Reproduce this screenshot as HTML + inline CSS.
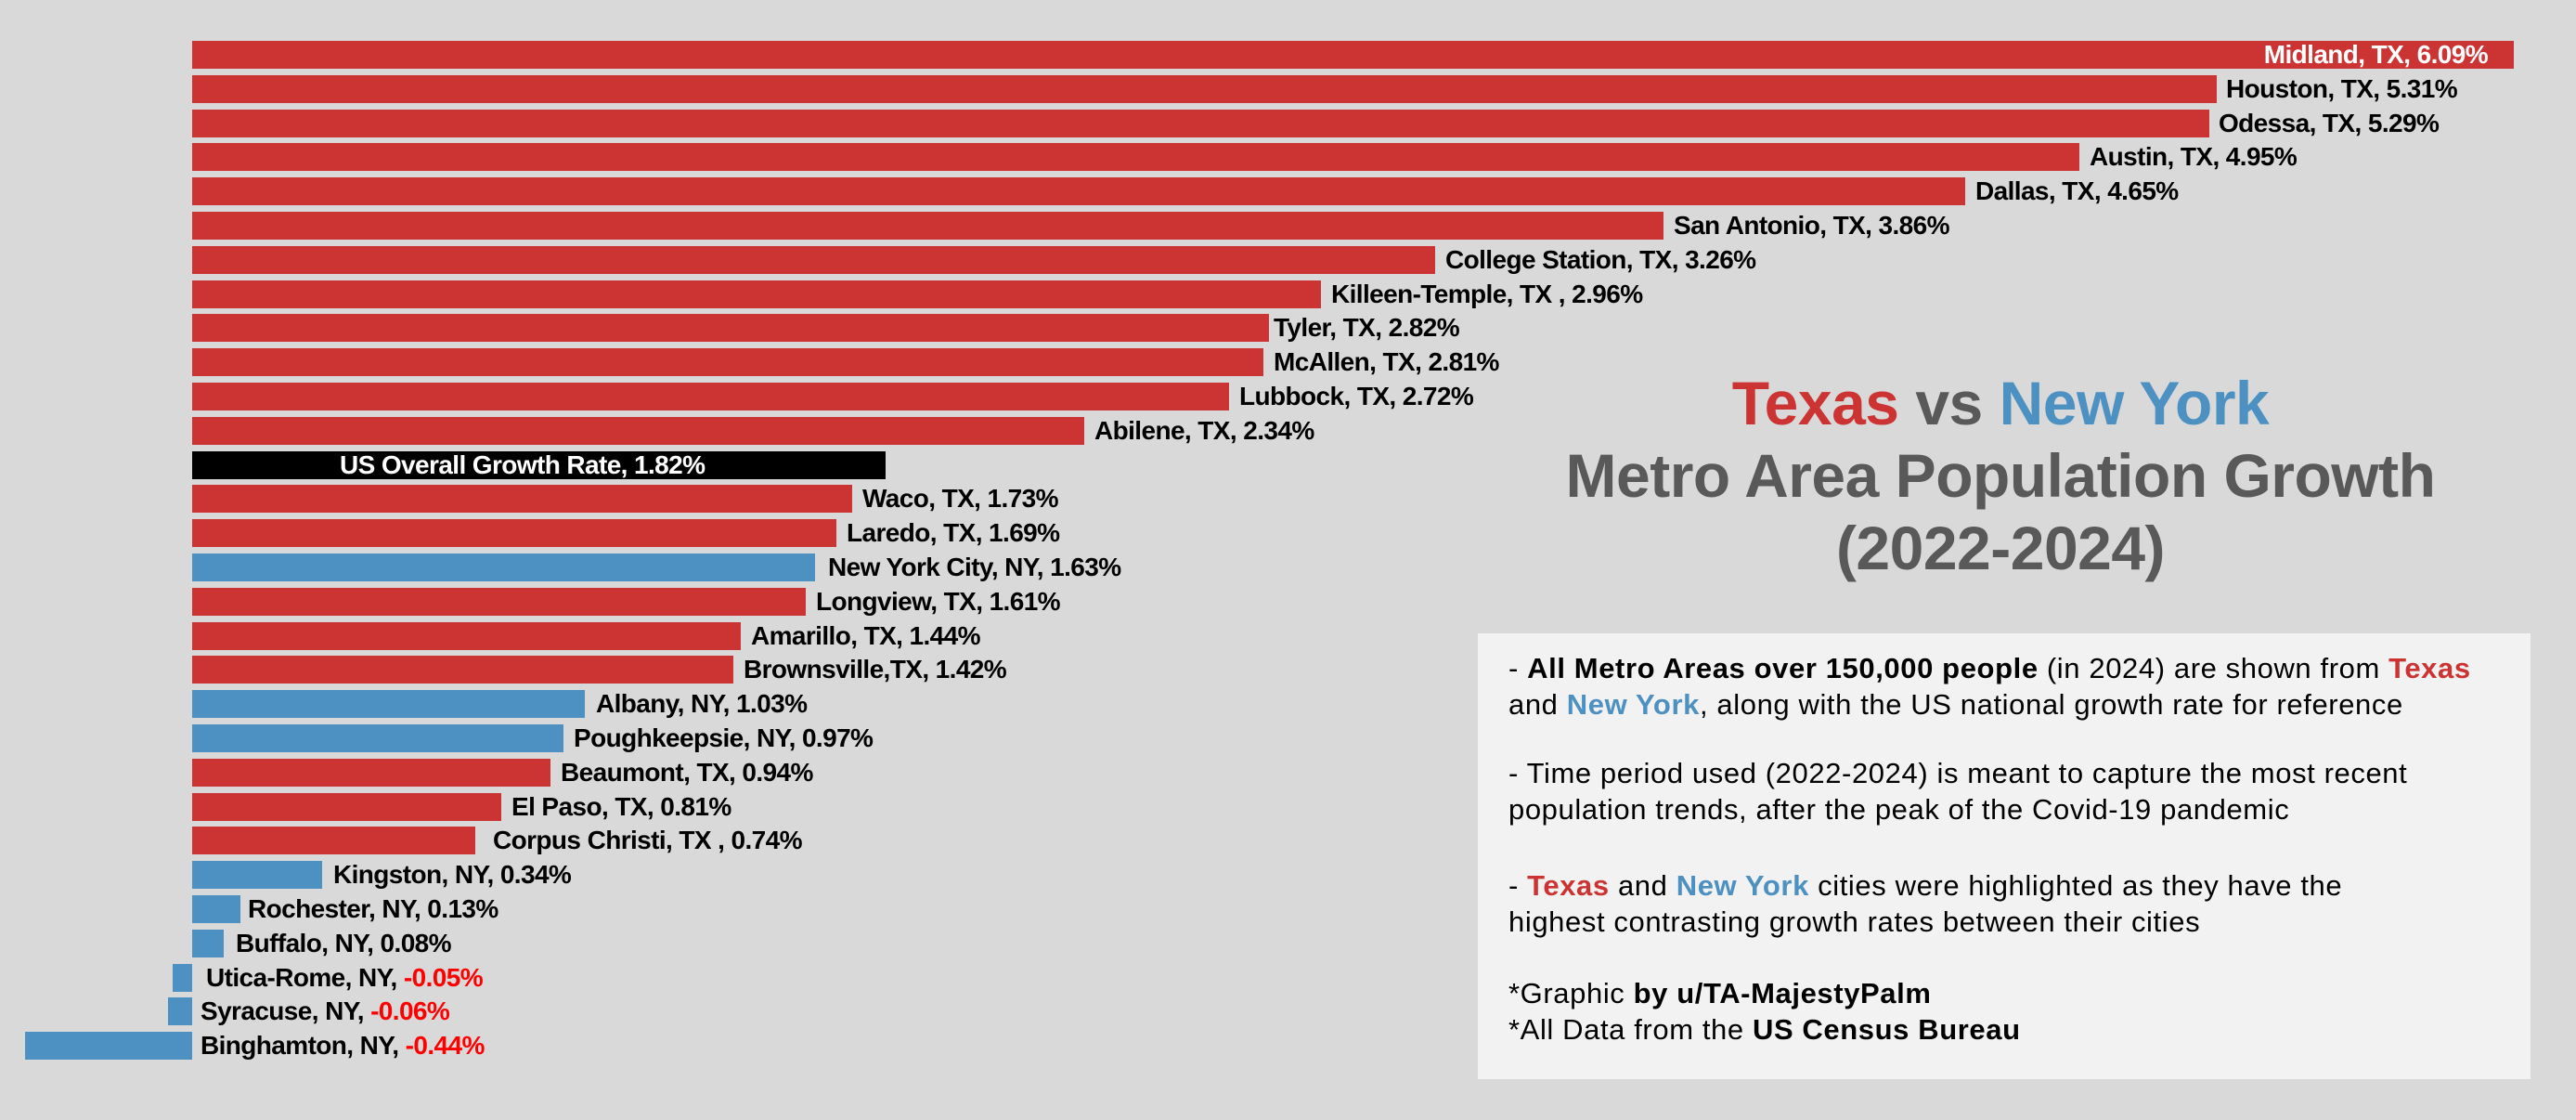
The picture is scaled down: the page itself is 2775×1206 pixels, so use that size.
<!DOCTYPE html>
<html><head><meta charset="utf-8"><style>
body{margin:0;width:2775px;height:1206px;background:#d9d9d9;position:relative;overflow:hidden;font-family:"Liberation Sans",sans-serif}
.b{position:absolute;height:30px}
.r{background:#cc3333}.u{background:#4d91c2}.k{background:#000}
.l{position:absolute;height:30px;line-height:30px;font-weight:bold;font-size:28px;letter-spacing:-0.6px;color:#000;white-space:nowrap}
.n{color:#ff0000}
.t{position:absolute;left:1555px;width:1200px;text-align:center;font-weight:bold;color:#595959;font-size:66px;letter-spacing:-0.5px}
.box{position:absolute;left:1592px;top:682px;width:1134px;height:480px;background:#f2f2f2}
.p{position:absolute;left:1625px;font-size:31px;color:#000;white-space:nowrap;letter-spacing:0.6px}
.tr{color:#cc3333;font-weight:bold}.tb{color:#4d91c2;font-weight:bold}
</style></head><body>
<div class="b r" style="left:207px;top:44px;width:2501px"></div><div class="l" style="left:2380px;width:300px;text-align:right;top:44px;color:#fff">Midland, TX, 6.09%</div>
<div class="b r" style="left:207px;top:81px;width:2181px"></div><div class="l" style="left:2398px;top:81px">Houston, TX, 5.31%</div>
<div class="b r" style="left:207px;top:118px;width:2173px"></div><div class="l" style="left:2390px;top:118px">Odessa, TX, 5.29%</div>
<div class="b r" style="left:207px;top:154px;width:2033px"></div><div class="l" style="left:2251px;top:154px">Austin, TX, 4.95%</div>
<div class="b r" style="left:207px;top:191px;width:1910px"></div><div class="l" style="left:2128px;top:191px">Dallas, TX, 4.65%</div>
<div class="b r" style="left:207px;top:228px;width:1585px"></div><div class="l" style="left:1803px;top:228px">San Antonio, TX, 3.86%</div>
<div class="b r" style="left:207px;top:265px;width:1339px"></div><div class="l" style="left:1557px;top:265px">College Station, TX, 3.26%</div>
<div class="b r" style="left:207px;top:302px;width:1216px"></div><div class="l" style="left:1434px;top:302px">Killeen-Temple, TX , 2.96%</div>
<div class="b r" style="left:207px;top:338px;width:1160px"></div><div class="l" style="left:1372px;top:338px">Tyler, TX, 2.82%</div>
<div class="b r" style="left:207px;top:375px;width:1154px"></div><div class="l" style="left:1372px;top:375px">McAllen, TX, 2.81%</div>
<div class="b r" style="left:207px;top:412px;width:1117px"></div><div class="l" style="left:1335px;top:412px">Lubbock, TX, 2.72%</div>
<div class="b r" style="left:207px;top:449px;width:961px"></div><div class="l" style="left:1179px;top:449px">Abilene, TX, 2.34%</div>
<div class="b k" style="left:207px;top:486px;width:747px"></div><div class="l" style="left:366px;top:486px;color:#fff">US Overall Growth Rate, 1.82%</div>
<div class="b r" style="left:207px;top:522px;width:711px"></div><div class="l" style="left:929px;top:522px">Waco, TX, 1.73%</div>
<div class="b r" style="left:207px;top:559px;width:694px"></div><div class="l" style="left:912px;top:559px">Laredo, TX, 1.69%</div>
<div class="b u" style="left:207px;top:596px;width:671px"></div><div class="l" style="left:892px;top:596px">New York City, NY, 1.63%</div>
<div class="b r" style="left:207px;top:633px;width:661px"></div><div class="l" style="left:879px;top:633px">Longview, TX, 1.61%</div>
<div class="b r" style="left:207px;top:670px;width:591px"></div><div class="l" style="left:809px;top:670px">Amarillo, TX, 1.44%</div>
<div class="b r" style="left:207px;top:706px;width:583px"></div><div class="l" style="left:801px;top:706px">Brownsville,TX, 1.42%</div>
<div class="b u" style="left:207px;top:743px;width:423px"></div><div class="l" style="left:642px;top:743px">Albany, NY, 1.03%</div>
<div class="b u" style="left:207px;top:780px;width:400px"></div><div class="l" style="left:618px;top:780px">Poughkeepsie, NY, 0.97%</div>
<div class="b r" style="left:207px;top:817px;width:386px"></div><div class="l" style="left:604px;top:817px">Beaumont, TX, 0.94%</div>
<div class="b r" style="left:207px;top:854px;width:333px"></div><div class="l" style="left:551px;top:854px">El Paso, TX, 0.81%</div>
<div class="b r" style="left:207px;top:890px;width:305px"></div><div class="l" style="left:531px;top:890px">Corpus Christi, TX , 0.74%</div>
<div class="b u" style="left:207px;top:927px;width:140px"></div><div class="l" style="left:359px;top:927px">Kingston, NY, 0.34%</div>
<div class="b u" style="left:207px;top:964px;width:52px"></div><div class="l" style="left:267px;top:964px">Rochester, NY, 0.13%</div>
<div class="b u" style="left:207px;top:1001px;width:34px"></div><div class="l" style="left:254px;top:1001px">Buffalo, NY, 0.08%</div>
<div class="b u" style="left:186px;top:1038px;width:21px"></div><div class="l" style="left:222px;top:1038px">Utica-Rome, NY, <span class="n">-0.05%</span></div>
<div class="b u" style="left:181px;top:1074px;width:26px"></div><div class="l" style="left:216px;top:1074px">Syracuse, NY, <span class="n">-0.06%</span></div>
<div class="b u" style="left:27px;top:1111px;width:180px"></div><div class="l" style="left:216px;top:1111px">Binghamton, NY, <span class="n">-0.44%</span></div>

<div class="t" style="top:396px"><span style="color:#cc3333">Texas</span> vs <span style="color:#4d91c2">New York</span></div>
<div class="t" style="top:474px">Metro Area Population Growth</div>
<div class="t" style="top:552px">(2022-2024)</div>

<div class="box"></div>
<div class="p" style="top:702px">- <b>All Metro Areas over 150,000 people</b> (in 2024) are shown from <span class="tr">Texas</span></div>
<div class="p" style="top:741px">and <span class="tb">New York</span>, along with the US national growth rate for reference</div>
<div class="p" style="top:815px">- Time period used (2022-2024) is meant to capture the most recent</div>
<div class="p" style="top:854px">population trends, after the peak of the Covid-19 pandemic</div>
<div class="p" style="top:936px">- <span class="tr">Texas</span> and <span class="tb">New York</span> cities were highlighted as they have the</div>
<div class="p" style="top:975px">highest contrasting growth rates between their cities</div>
<div class="p" style="top:1052px">*Graphic <b>by u/TA-MajestyPalm</b></div>
<div class="p" style="top:1091px">*All Data from the <b>US Census Bureau</b></div>
</body></html>
